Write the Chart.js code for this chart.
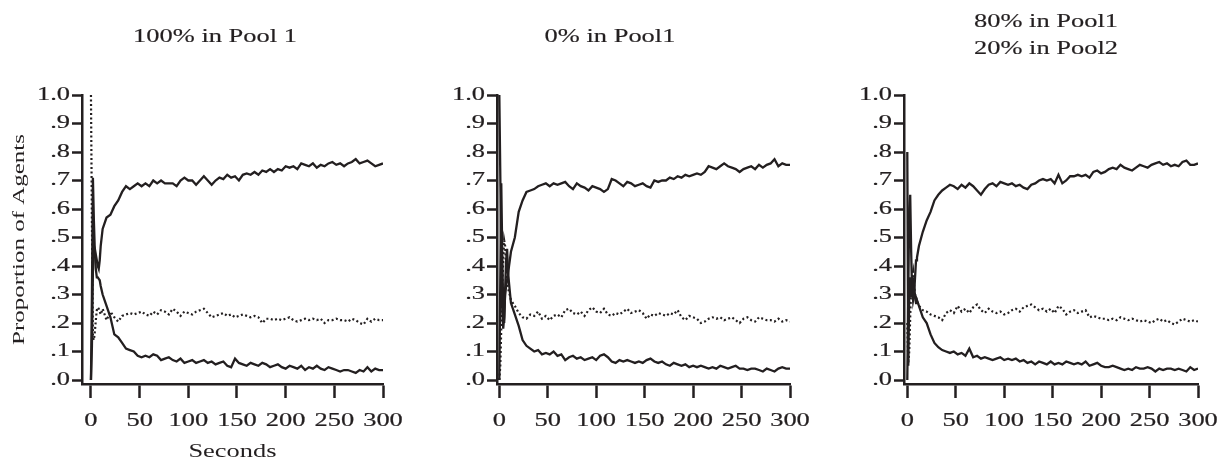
<!DOCTYPE html>
<html>
<head>
<meta charset="utf-8">
<script src="https://cdn.jsdelivr.net/npm/chart.js@4.4.1/dist/chart.umd.min.js"></script>
<style>
  body { margin: 0; background: #fff; width: 1228px; height: 461px; position: relative; overflow: hidden; }
  canvas { position: absolute; top: 0; }
</style>
</head>
<body>
<canvas id="pool100" width="410" height="461" style="left:0px;width:410px;height:461px"></canvas>
<canvas id="pool0" width="410" height="461" style="left:409px;width:410px;height:461px"></canvas>
<canvas id="pool80" width="410" height="461" style="left:818px;width:410px;height:461px"></canvas>
<script>
// the lettering in the original figure is horizontally expanded
const SX = 1.47;
const INK = '#231f20';
const FONT = '"Liberation Serif", "Times New Roman", serif';

const seconds = [0, 1, 2, 3, 4, 5, 6, 7, 8, 9, 10,
  12, 16, 20, 24, 28, 32, 36, 40, 44, 48,
  52, 56, 60, 64, 68, 72, 76, 80, 84, 88,
  92, 96, 100, 104, 108, 112, 116, 120, 124, 128,
  132, 136, 140, 144, 148, 152, 156, 160, 164, 168,
  172, 176, 180, 184, 188, 192, 196, 200, 204, 208,
  212, 216, 220, 224, 228, 232, 236, 240, 244, 248,
  252, 256, 260, 264, 268, 272, 276, 280, 284, 288,
  292, 296, 300];

const xTicks = [0, 50, 100, 150, 200, 250, 300];
const yTicks = [0, 0.1, 0.2, 0.3, 0.4, 0.5, 0.6, 0.7, 0.8, 0.9, 1.0];
const yTickLabels = ['.0', '.1', '.2', '.3', '.4', '.5', '.6', '.7', '.8', '.9', '1.0'];
const titles = [['100% in Pool 1'], ['0% in Pool1'], ['80% in Pool1', '20% in Pool2']];

// 100% in Pool 1
const riseA = [0.00, 0.12, 0.38, 0.47, 0.46, 0.44, 0.42, 0.40, 0.39, 0.42, 0.47,
  0.53, 0.57, 0.58, 0.61, 0.63, 0.66, 0.68, 0.67, 0.68, 0.69,
  0.68, 0.69, 0.68, 0.70, 0.69, 0.70, 0.69, 0.69, 0.69, 0.68,
  0.70, 0.71, 0.70, 0.70, 0.685, 0.70, 0.715, 0.70, 0.685, 0.70,
  0.71, 0.705, 0.72, 0.71, 0.715, 0.70, 0.72, 0.725, 0.72, 0.73,
  0.72, 0.735, 0.73, 0.74, 0.73, 0.74, 0.735, 0.75, 0.745, 0.75,
  0.74, 0.76, 0.755, 0.75, 0.76, 0.745, 0.755, 0.75, 0.76, 0.765,
  0.755, 0.76, 0.75, 0.76, 0.765, 0.775, 0.76, 0.765, 0.77, 0.76,
  0.75, 0.755, 0.76];
const fallA = [0.00, 0.30, 0.71, 0.56, 0.45, 0.39, 0.36, 0.36, 0.355, 0.35, 0.33,
  0.30, 0.26, 0.22, 0.16, 0.15, 0.13, 0.11, 0.105, 0.10, 0.085,
  0.08, 0.085, 0.08, 0.09, 0.085, 0.07, 0.075, 0.08, 0.07, 0.065,
  0.075, 0.06, 0.065, 0.07, 0.06, 0.065, 0.07, 0.06, 0.065, 0.055,
  0.06, 0.065, 0.05, 0.045, 0.075, 0.06, 0.055, 0.05, 0.06, 0.055,
  0.05, 0.06, 0.055, 0.045, 0.05, 0.055, 0.045, 0.04, 0.05, 0.045,
  0.04, 0.05, 0.035, 0.045, 0.04, 0.05, 0.04, 0.035, 0.045, 0.04,
  0.035, 0.03, 0.035, 0.035, 0.03, 0.025, 0.035, 0.03, 0.045, 0.03,
  0.04, 0.035, 0.035];
const dotA = [1.00, 0.55, 0.15, 0.14, 0.17, 0.21, 0.245, 0.255, 0.25, 0.24, 0.23,
  0.25, 0.21, 0.24, 0.22, 0.205, 0.225, 0.23, 0.235, 0.23, 0.235,
  0.24, 0.23, 0.225, 0.24, 0.23, 0.245, 0.24, 0.23, 0.25, 0.24,
  0.225, 0.24, 0.235, 0.23, 0.24, 0.245, 0.25, 0.235, 0.22, 0.225,
  0.23, 0.235, 0.225, 0.23, 0.22, 0.225, 0.23, 0.225, 0.22, 0.225,
  0.22, 0.20, 0.215, 0.215, 0.21, 0.215, 0.21, 0.215, 0.22, 0.21,
  0.205, 0.21, 0.215, 0.21, 0.215, 0.21, 0.215, 0.20, 0.21, 0.21,
  0.215, 0.21, 0.21, 0.205, 0.215, 0.21, 0.20, 0.195, 0.215, 0.205,
  0.215, 0.21, 0.21];

// 0% in Pool1
const riseB = [1.00, 0.72, 0.45, 0.25, 0.18, 0.22, 0.30, 0.33, 0.35, 0.37, 0.40,
  0.45, 0.50, 0.59, 0.63, 0.66, 0.665, 0.67, 0.68, 0.685, 0.69,
  0.68, 0.69, 0.685, 0.69, 0.695, 0.68, 0.67, 0.69, 0.68, 0.675,
  0.665, 0.68, 0.675, 0.67, 0.66, 0.67, 0.705, 0.70, 0.69, 0.68,
  0.695, 0.69, 0.68, 0.685, 0.69, 0.68, 0.675, 0.70, 0.695, 0.70,
  0.70, 0.71, 0.705, 0.715, 0.71, 0.72, 0.715, 0.72, 0.725, 0.72,
  0.73, 0.75, 0.745, 0.74, 0.75, 0.76, 0.75, 0.745, 0.74, 0.73,
  0.74, 0.745, 0.75, 0.74, 0.755, 0.745, 0.755, 0.76, 0.775, 0.75,
  0.76, 0.755, 0.755];
const fallB = [0.00, 0.35, 0.69, 0.45, 0.25, 0.20, 0.32, 0.42, 0.46, 0.38, 0.34,
  0.27, 0.23, 0.19, 0.14, 0.12, 0.11, 0.10, 0.105, 0.09, 0.095,
  0.09, 0.10, 0.085, 0.09, 0.07, 0.08, 0.085, 0.075, 0.08, 0.07,
  0.075, 0.08, 0.07, 0.085, 0.09, 0.08, 0.065, 0.06, 0.07, 0.065,
  0.07, 0.065, 0.06, 0.065, 0.06, 0.07, 0.075, 0.065, 0.06, 0.065,
  0.055, 0.05, 0.06, 0.055, 0.05, 0.055, 0.045, 0.05, 0.045, 0.05,
  0.045, 0.04, 0.045, 0.04, 0.05, 0.045, 0.04, 0.045, 0.05, 0.04,
  0.04, 0.035, 0.04, 0.04, 0.035, 0.03, 0.04, 0.035, 0.03, 0.04,
  0.045, 0.04, 0.04];
const dotB = [0.00, 0.05, 0.18, 0.32, 0.42, 0.49, 0.47, 0.40, 0.34, 0.32, 0.31,
  0.28, 0.26, 0.235, 0.22, 0.215, 0.23, 0.225, 0.24, 0.215, 0.225,
  0.21, 0.225, 0.23, 0.22, 0.245, 0.25, 0.235, 0.23, 0.24, 0.225,
  0.245, 0.255, 0.24, 0.235, 0.25, 0.23, 0.225, 0.235, 0.23, 0.24,
  0.25, 0.235, 0.24, 0.245, 0.235, 0.215, 0.23, 0.225, 0.235, 0.23,
  0.225, 0.235, 0.23, 0.245, 0.22, 0.21, 0.225, 0.22, 0.215, 0.20,
  0.205, 0.215, 0.22, 0.215, 0.22, 0.21, 0.215, 0.22, 0.21, 0.20,
  0.215, 0.22, 0.21, 0.205, 0.22, 0.215, 0.21, 0.21, 0.205, 0.215,
  0.205, 0.21, 0.205];

// 80% in Pool1 / 20% in Pool2
const riseC = [0.80, 0.05, 0.30, 0.36, 0.29, 0.33, 0.28, 0.30, 0.36, 0.42, 0.43,
  0.47, 0.52, 0.56, 0.59, 0.63, 0.65, 0.665, 0.675, 0.685, 0.68,
  0.67, 0.685, 0.675, 0.69, 0.68, 0.665, 0.65, 0.67, 0.685, 0.69,
  0.68, 0.695, 0.69, 0.685, 0.69, 0.68, 0.685, 0.675, 0.67, 0.685,
  0.69, 0.70, 0.705, 0.70, 0.705, 0.69, 0.72, 0.69, 0.70, 0.715,
  0.715, 0.72, 0.715, 0.72, 0.71, 0.73, 0.735, 0.725, 0.73, 0.74,
  0.745, 0.74, 0.755, 0.745, 0.74, 0.735, 0.745, 0.755, 0.75, 0.745,
  0.755, 0.76, 0.765, 0.755, 0.76, 0.75, 0.755, 0.75, 0.765, 0.77,
  0.755, 0.755, 0.76];
const fallC = [0.00, 0.30, 0.60, 0.65, 0.45, 0.30, 0.36, 0.33, 0.29, 0.27, 0.28,
  0.26, 0.22, 0.20, 0.16, 0.13, 0.115, 0.105, 0.10, 0.095, 0.10,
  0.09, 0.095, 0.085, 0.11, 0.08, 0.085, 0.075, 0.08, 0.075, 0.07,
  0.075, 0.08, 0.07, 0.075, 0.07, 0.075, 0.065, 0.07, 0.06, 0.065,
  0.055, 0.065, 0.06, 0.055, 0.065, 0.055, 0.06, 0.055, 0.065, 0.06,
  0.055, 0.06, 0.055, 0.065, 0.05, 0.055, 0.06, 0.05, 0.045, 0.045,
  0.05, 0.045, 0.04, 0.035, 0.04, 0.035, 0.045, 0.04, 0.04, 0.045,
  0.04, 0.03, 0.04, 0.035, 0.04, 0.04, 0.035, 0.04, 0.035, 0.03,
  0.045, 0.035, 0.04];
const dotC = [0.20, 0.06, 0.10, 0.22, 0.33, 0.36, 0.38, 0.33, 0.30, 0.29, 0.28,
  0.26, 0.245, 0.24, 0.23, 0.225, 0.22, 0.21, 0.235, 0.245, 0.235,
  0.26, 0.24, 0.25, 0.235, 0.255, 0.265, 0.245, 0.235, 0.25, 0.24,
  0.235, 0.24, 0.23, 0.235, 0.245, 0.25, 0.24, 0.255, 0.26, 0.265,
  0.255, 0.245, 0.25, 0.24, 0.25, 0.235, 0.26, 0.25, 0.23, 0.24,
  0.245, 0.235, 0.24, 0.245, 0.22, 0.225, 0.22, 0.215, 0.215, 0.21,
  0.215, 0.21, 0.22, 0.215, 0.21, 0.215, 0.21, 0.205, 0.21, 0.205,
  0.20, 0.21, 0.215, 0.205, 0.21, 0.20, 0.195, 0.205, 0.215, 0.21,
  0.205, 0.21, 0.205];

// widen every string the chart writes, around its anchor point
function expandText(ctx) {
  const fill = ctx.fillText.bind(ctx);
  const stroke = ctx.strokeText.bind(ctx);
  const measure = ctx.measureText.bind(ctx);
  const wrap = (draw) => function (text, x, y, maxWidth) {
    this.save();
    this.translate(x, y);
    this.scale(SX, 1);
    if (maxWidth === undefined) draw(text, 0, 0);
    else draw(text, 0, 0, maxWidth / SX);
    this.restore();
  };
  ctx.fillText = wrap(fill);
  ctx.strokeText = wrap(stroke);
  ctx.measureText = function (text) {
    const m = measure(text);
    return { width: m.width * SX, actualBoundingBoxAscent: m.actualBoundingBoxAscent, actualBoundingBoxDescent: m.actualBoundingBoxDescent };
  };
}

const panelTitle = {
  id: 'panelTitle',
  afterDraw(chart, args, opts) {
    const ctx = chart.ctx;
    ctx.save();
    ctx.font = `18px ${FONT}`;
    ctx.fillStyle = INK;
    ctx.strokeStyle = INK;
    ctx.lineWidth = 0.15;
    ctx.textAlign = 'center';
    ctx.textBaseline = 'alphabetic';
    opts.lines.forEach((line, i) => {
      ctx.fillText(line, opts.x, opts.y + i * 27);
      ctx.strokeText(line, opts.x, opts.y + i * 27);
    });
    ctx.restore();
  }
};

function line(values, dotted) {
  return {
    data: seconds.map((t, i) => ({ x: t, y: values[i] })),
    borderColor: INK,
    borderWidth: dotted ? 2.2 : 2.3,
    borderDash: dotted ? [2, 2.5] : [],
    pointRadius: 0,
    tension: 0,
    fill: false
  };
}

function makePanel(id, cfg) {
  const canvas = document.getElementById(id);
  expandText(canvas.getContext('2d'));

  new Chart(canvas, {
    type: 'line',
    data: { datasets: cfg.series.map(s => line(s.values, s.dotted)) },
    options: {
      responsive: false,
      animation: false,
      events: [],
      layout: { autoPadding: false, padding: { left: 0, top: 95, right: 410 - cfg.right, bottom: 0 } },
      plugins: {
        legend: { display: false },
        tooltip: { enabled: false },
        panelTitle: { lines: cfg.title, x: cfg.titleX, y: cfg.titleY }
      },
      scales: {
        x: {
          type: 'linear',
          min: cfg.xMin,
          max: 300,
          afterBuildTicks: s => { s.ticks = xTicks.map(v => ({ value: v })); },
          afterFit: s => { s.height = 77; s.paddingLeft = 0; s.paddingRight = 0; },
          ticks: {
            color: INK,
            font: { family: FONT, size: 18 },
            textStrokeColor: INK,
            textStrokeWidth: 0.2,
            padding: 12,
            maxRotation: 0,
            autoSkip: false,
            callback: (v, i) => String(xTicks[i])
          },
          grid: { drawOnChartArea: false, tickLength: 14, tickWidth: 2.5, tickColor: INK },
          border: { display: true, color: INK, width: 2.5 },
          title: {
            display: cfg.xTitle,
            text: 'Seconds',
            color: INK,
            font: { family: FONT, size: 18 },
            padding: { top: 0, bottom: -2 }
          }
        },
        y: {
          min: -0.014,
          max: 1,
          afterBuildTicks: s => { s.ticks = yTicks.map(v => ({ value: v })); },
          afterFit: s => { s.width = cfg.left; s.paddingTop = 0; s.paddingBottom = 0; },
          ticks: {
            color: INK,
            font: { family: FONT, size: 18 },
            textStrokeColor: INK,
            textStrokeWidth: 0.2,
            padding: 2,
            callback: (v, i) => yTickLabels[i]
          },
          grid: { drawOnChartArea: false, tickLength: 10, tickWidth: 2.5, tickColor: INK },
          border: { display: true, color: INK, width: 2.5 },
          title: {
            display: cfg.yTitle,
            text: 'Proportion of Agents',
            color: INK,
            font: { family: FONT, size: 17 },
            padding: { top: 9, bottom: 0 }
          }
        }
      }
    },
    plugins: [panelTitle]
  });
}

makePanel('pool100', {
  series: [{ values: riseA }, { values: fallA }, { values: dotA, dotted: true }],
  title: titles[0], titleX: 215, titleY: 42,
  left: 82, right: 383, xMin: -9.2, xTitle: true, yTitle: true
});
makePanel('pool0', {
  series: [{ values: riseB }, { values: fallB }, { values: dotB, dotted: true }],
  title: titles[1], titleX: 201, titleY: 42,
  left: 88, right: 381, xMin: -2.4, xTitle: false, yTitle: false
});
makePanel('pool80', {
  series: [{ values: riseC }, { values: fallC }, { values: dotC, dotted: true }],
  title: titles[2], titleX: 228, titleY: 27,
  left: 86, right: 380, xMin: -3.4, xTitle: false, yTitle: false
});
</script>
</body>
</html>
